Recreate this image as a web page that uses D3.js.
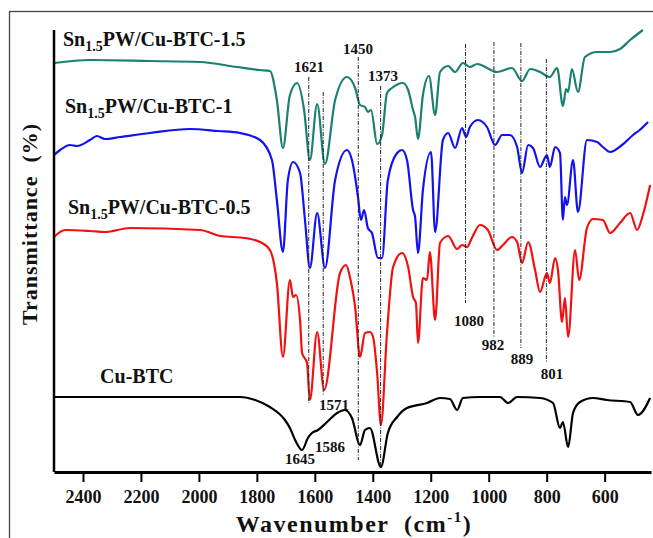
<!DOCTYPE html>
<html>
<head>
<meta charset="utf-8">
<script src="https://cdn.jsdelivr.net/npm/d3@7"></script>
<style>
  body { margin: 0; background: #fff; }
  svg text { font-family: "Liberation Serif", "Times New Roman", serif; font-weight: bold; fill: #111; }
</style>
</head>
<body>
<svg id="chart" width="653" height="538"></svg>
<script>
// FTIR spectra, offsets (arbitrary transmittance units)
var seriesNames = ["Cu-BTC", "Sn1.5PW/Cu-BTC-0.5", "Sn1.5PW/Cu-BTC-1", "Sn1.5PW/Cu-BTC-1.5"];
var seriesColors = ["#000000", "#f21010", "#1212f0", "#1a8070"];

var cuBTC = [[2500,18.75],[1858,18.75],[1806,18],[1755,16.25],[1703,13],[1686,11],[1668,8],[1644,5.5],[1624,8.5],[1610,9.75],[1589,10.5],[1558,12.5],[1523,14.75],[1496,15.5],[1472,13.5],[1444,6.75],[1427,10.5],[1410,11],[1372,1.25],[1348,9.75],[1316,13.75],[1282,16],[1213,17.25],[1168,18.5],[1134,18.25],[1109,15.5],[1089,18.5],[1030,18.75],[961,18.75],[933,17.25],[902,18.75],[823,18.5],[778,17.25],[754,11],[744,12.5],[726,6.25],[709,14.75],[685,17.5],[640,18.5],[592,18],[512,17.5],[485,14.25],[443,18.5]];

var sn05 = [[2500,58.75],[2462,60.5],[2376,60.25],[2324,60],[2238,61],[1996,60.5],[1927,59],[1841,58.5],[1789,57.5],[1755,55.5],[1731,47.25],[1710,28.75],[1686,48],[1675,43.75],[1665,44.25],[1651,38],[1644,29.75],[1627,27.25],[1617,18],[1592,35],[1568,20.5],[1513,49.75],[1492,51.75],[1479,48.75],[1461,41.25],[1444,28.75],[1427,34.75],[1410,35],[1399,33.75],[1385,24.75],[1372,11.75],[1351,34.75],[1330,51.25],[1299,54.75],[1278,51.25],[1261,43.75],[1251,42.25],[1244,32.25],[1227,48.5],[1213,48],[1203,55],[1185,38],[1168,57.25],[1140,59],[1109,55.75],[1092,56.75],[1075,56.25],[1058,58.5],[1030,61.75],[1003,60.5],[971,55.5],[951,56.75],[920,58.75],[902,57.5],[885,52.25],[864,57.5],[840,50.5],[823,45],[799,49.75],[789,47.25],[771,53.5],[761,50.5],[747,37.5],[737,43.5],[726,33.75],[702,55.5],[688,48],[661,61],[640,63.25],[606,63],[581,59.75],[547,62.25],[512,64.75],[488,60.5],[468,64.25],[443,71.75]];

var sn1 = [[2500,79.25],[2479,80.5],[2445,81.75],[2421,81.5],[2376,83],[2352,84],[2324,83.25],[2272,83.75],[2169,84.75],[2031,85.75],[1934,85.25],[1858,84.75],[1789,83],[1748,78],[1731,68],[1710,55],[1693,73],[1675,77.5],[1651,74.75],[1634,63],[1617,51],[1592,64.75],[1565,51],[1530,73],[1489,80.5],[1472,78],[1451,68.75],[1441,63],[1430,65.5],[1417,61],[1403,59.75],[1382,53.5],[1368,53.5],[1348,73],[1316,79.75],[1299,80.5],[1282,78],[1261,65.5],[1254,63.75],[1244,54.75],[1227,70.5],[1199,80],[1185,60],[1158,83],[1140,84.75],[1116,81],[1092,86],[1078,83.75],[1065,86.25],[1037,88],[1006,86.25],[978,81.75],[954,84.25],[927,84.25],[902,81.25],[885,74.75],[864,81.75],[847,81],[823,76.25],[799,79.25],[789,76.25],[771,81.25],[754,79.75],[744,63],[737,68.75],[730,66.75],[709,78],[692,65],[661,83],[626,82.5],[606,81.25],[581,80],[540,81.75],[502,84.25],[479,85.5],[450,87.5]];

var sn15 = [[2500,102.25],[2376,103],[2169,102.75],[1996,102.5],[1869,101.25],[1789,100.5],[1755,100.25],[1731,93],[1710,81],[1686,94.25],[1661,97.25],[1637,90.5],[1617,78],[1592,92],[1565,77],[1530,93],[1489,98.75],[1461,96],[1444,91.75],[1427,91.25],[1417,90],[1406,90.5],[1385,82],[1368,84.25],[1351,94.75],[1334,96],[1296,97.25],[1278,95.5],[1261,90.5],[1254,88.75],[1244,83.25],[1227,94.25],[1206,99],[1185,89.25],[1168,100],[1140,101.5],[1116,100],[1089,102.25],[1065,101.25],[1040,102],[971,100],[920,101],[885,97.75],[857,100.75],[823,100],[789,98.75],[764,101],[744,91.5],[733,95.75],[726,95],[713,100.75],[692,95],[668,103.75],[626,105],[581,105],[547,105.75],[512,108],[468,110.5]];

// series name labels: wavenumber + baseline value
var nameWn = [2341, 2452, 2462, 2469];
var nameT = [22.25, 64.5, 89.75, 106.5];

// dash-dot marker lines
var peakWn = [1621, 1571, 1450, 1373, 1080, 982, 889, 801];
var peakTop = [98.75, 95, 103.75, 96.5, 107, 107.5, 107.25, 103.25];
var peakBottom = [17.25, 19.25, 3, 1.25, 42.25, 33.75, 31, 27.25];

// peak number labels
var labelText = ["1621", "1571", "1450", "1373", "1080", "982", "889", "801", "1645", "1586"];
var labelWn = [1620, 1534, 1451, 1365, 1068, 985, 885, 782, 1651, 1548];
var labelT = [101.25, 16.75, 105.75, 99, 37.75, 31.75, 28.25, 24.5, 3.25, 6.25];

var xTicks = [2400, 2200, 2000, 1800, 1600, 1400, 1200, 1000, 800, 600];

var svg = d3.select("#chart");

var x = d3.scaleLinear().domain([2500, 440]).range([54, 651]);
var y = d3.scaleLinear().domain([0, 110.5]).range([472, 30]);

// outer frame of the figure
svg.append("rect")
  .attr("x", 9.5).attr("y", 11.5)
  .attr("width", 700).attr("height", 600)
  .attr("fill", "none").attr("stroke", "#444").attr("stroke-width", 1.3);

var line = d3.line()
  .x(function(d){ return x(d[0]); })
  .y(function(d){ return y(d[1]); })
  .curve(d3.curveMonotoneX);

var allSeries = [cuBTC, sn05, sn1, sn15];

svg.selectAll("path.spec")
  .data(allSeries)
  .enter().append("path")
  .attr("class", "spec")
  .attr("d", line)
  .attr("fill", "none")
  .attr("stroke", function(d, i){ return seriesColors[i]; })
  .attr("stroke-width", 2.2)
  .attr("stroke-linejoin", "round");

// peak marker lines
svg.selectAll("line.peak")
  .data(peakWn)
  .enter().append("line")
  .attr("class", "peak")
  .attr("x1", function(d){ return x(d); })
  .attr("x2", function(d){ return x(d); })
  .attr("y1", function(d, i){ return y(peakTop[i]); })
  .attr("y2", function(d, i){ return y(peakBottom[i]); })
  .attr("stroke", "#222")
  .attr("stroke-width", 1)
  .attr("stroke-dasharray", "4,1.5,1,1.5");

svg.selectAll("text.peaklab")
  .data(labelText)
  .enter().append("text")
  .attr("class", "peaklab")
  .attr("x", function(d, i){ return x(labelWn[i]); })
  .attr("y", function(d, i){ return y(labelT[i]); })
  .attr("text-anchor", "middle")
  .attr("dy", "0.35em")
  .style("font-size", "15px")
  .text(function(d){ return d; });

// series names, "1.5" as subscript
seriesNames.forEach(function(name, i){
  var t = svg.append("text")
    .attr("x", x(nameWn[i]))
    .attr("y", y(nameT[i]))
    .style("font-size", "20px");
  if (name.indexOf("Sn1.5") === 0) {
    t.append("tspan").text("Sn");
    t.append("tspan").attr("dy", 5).style("font-size", "14px").text("1.5");
    t.append("tspan").attr("dy", -5).text(name.slice(5));
  } else {
    t.text(name);
  }
});

// axes
var xAxis = d3.axisBottom(x).tickValues(xTicks).tickFormat(d3.format("d"))
  .tickSize(10).tickSizeOuter(0).tickPadding(8);
var gx = svg.append("g").attr("transform", "translate(0,472)").call(xAxis);
gx.attr("font-family", null);
gx.select(".domain").attr("stroke", "#000").attr("stroke-width", 3);
gx.selectAll(".tick line").attr("stroke", "#000").attr("stroke-width", 2);
gx.selectAll(".tick text")
  .style("font-family", "'Liberation Serif', serif")
  .style("font-weight", "bold")
  .style("font-size", "18px")
  .attr("fill", "#111");

svg.append("line")
  .attr("x1", x(2500)).attr("x2", x(2500))
  .attr("y1", y(110.5)).attr("y2", y(0))
  .attr("stroke", "#000").attr("stroke-width", 2.5);

// axis titles
var xt = svg.append("text")
  .attr("x", 354).attr("y", 532)
  .attr("text-anchor", "middle")
  .style("font-size", "24px")
  .style("letter-spacing", "1.5px")
  .style("white-space", "pre");
xt.append("tspan").text("Wavenumber  (cm");
xt.append("tspan").attr("dy", -10).style("font-size", "15px").text("-1");
xt.append("tspan").attr("dy", 10).text(")");

svg.append("text")
  .attr("transform", "translate(37,224) rotate(-90)")
  .attr("text-anchor", "middle")
  .style("font-size", "22px")
  .style("letter-spacing", "1px")
  .style("white-space", "pre")
  .text("Transmittance  (%)");
</script>
</body>
</html>
